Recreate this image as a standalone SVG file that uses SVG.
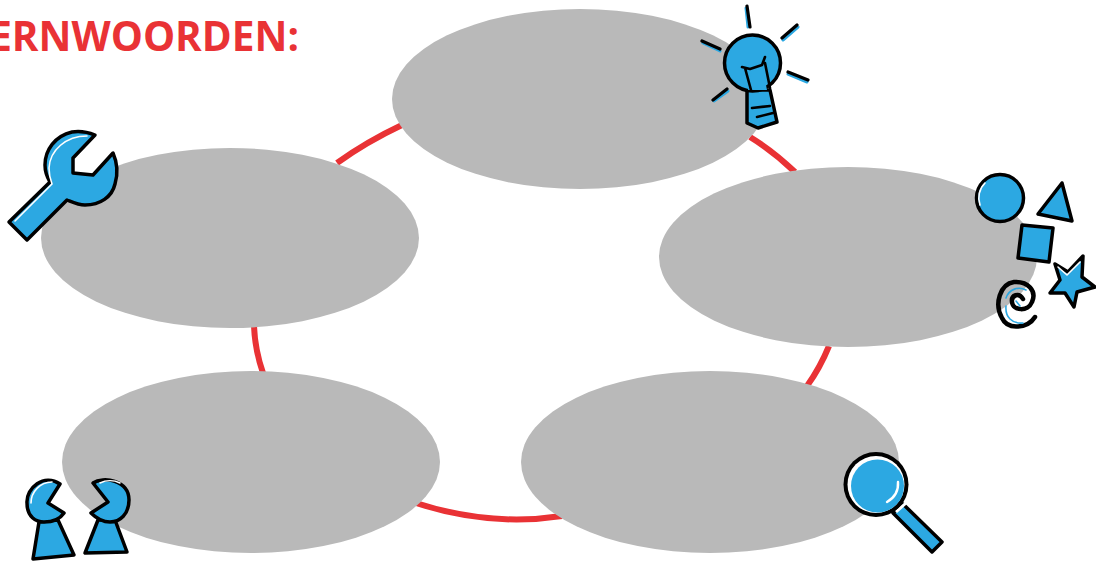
<svg xmlns="http://www.w3.org/2000/svg" width="1096" height="561" viewBox="0 0 1096 561">
<style>
.title{font-family:"Open Sans","Noto Sans",sans-serif;font-weight:700;font-size:40.5px;fill:#e93235}
.ring{fill:none;stroke:#e93235;stroke-width:6}
.blob{fill:#b9b9b9}
.b{fill:#2ca8e2;stroke:#000;stroke-width:3.5;stroke-linejoin:round;stroke-linecap:round}
.l{fill:none;stroke:#000;stroke-width:2.6;stroke-linecap:round;stroke-linejoin:round}
.r{fill:none;stroke:#000;stroke-width:3.2;stroke-linecap:round}
.rb{fill:none;stroke:#2ca8e2;stroke-width:3;stroke-linecap:round}
.hi{fill:none;stroke:#fff;stroke-width:1.6;stroke-linecap:round;stroke-linejoin:round}
</style>
<rect width="1096" height="561" fill="#fff"/>
<text class="title" x="299" y="51" text-anchor="end">ERNWOORDEN:</text>
<g id="connectors">
<path class="ring" d="M337 163Q366 142 402 125"/>
<path class="ring" d="M750 137Q773 151 795 172"/>
<path class="ring" d="M829 346Q820 368 807 386"/>
<path class="ring" d="M416 503Q490 527 562 516"/>
<path class="ring" d="M254 326Q255 350 263 373"/>
</g>
<g id="node-top"><ellipse class="blob" cx="580" cy="99" rx="188" ry="90"/>
<g id="icon-bulb">
<path class="rb" d="M746 8L748 27M783 40L798 27M788 74L807 82M714 101L728 91M703 43L720 51"/>
<path class="r" d="M747 6L750 27M782 38L797 25M788 72L808 80M713 100L727 89M702 41L720 49"/>
<path class="b" d="M747 90L747 123L758 128L777 122L770 90Z"/>
<circle class="b" cx="752.5" cy="63" r="28"/>
<path d="M748 90L752 68L762 66L767 90Z" fill="#2ca8e2"/>
<path class="l" d="M742 67L750 69L762 65L765 57M745 68L751 90M765 63L770 88M752 108L770 106M757 117L773 113"/>
</g></g>
<g id="node-right"><ellipse class="blob" cx="848" cy="257" rx="189" ry="90"/>
<g id="icon-shapes">
<circle class="b" cx="1000" cy="198" r="23.5"/>
<path class="hi" d="M980 205A21 21 0 0 1 985 183"/>
<path class="b" d="M1062 183L1038 214L1072 221Z"/>
<path class="b" d="M1022 225L1053 228L1049 262L1018 258Z"/>
<path class="b" d="M1055 264L1068 272L1083 256L1082 277L1095 287L1077 292L1074 307L1065 293L1050 293L1060 280Z"/>
<path class="hi" d="M1058 267L1067 275L1080 262"/>
<path d="M1035 317C1028 328 1008 331 1002 318C994 304 1000 284 1014 282C1028 281 1037 291 1032 302C1028 312 1013 311 1012 302C1011 295 1019 292 1023 299" fill="none" stroke="#000" stroke-width="4.5" stroke-linecap="round"/>
<path d="M1006 306C1005 317 1012 324 1023 323M1006 298C1009 289 1019 286 1026 290M1016 301L1020 306" fill="none" stroke="#2ca8e2" stroke-width="1.6" stroke-linecap="round"/>
</g></g>
<g id="node-left"><ellipse class="blob" cx="230" cy="238" rx="189" ry="90"/>
<g id="icon-wrench">
<path class="b" d="M95 135C85 131 78 131 72 132C55 136 45 150 45 165C45 172 47 177 50 182L9 222L27 240L67 200C72 202 78 205 85 205C100 205 112 197 115 184C118 174 117 162 113 153L93 175L73 173L73 158Z"/>
<path class="hi" d="M87 136C66 136 50 150 49 168C49 174 50 179 52 184L15 221"/>
</g></g>
<g id="node-bottom-left"><ellipse class="blob" cx="251" cy="462" rx="189" ry="91"/>
<g id="icon-pawns">
<path class="b" d="M39 522L33 559L74 555L58 520Z"/>
<path class="b" d="M60 484C44 473 26 488 27 503C27 517 36 522 44 522C54 522 60 519 64 513L48 503Z"/>
<path class="hi" d="M52 482C40 482 31 492 31 503"/>
<path class="b" d="M98 520L85 553L127 552L115 520Z"/>
<path class="b" d="M93 483C103 476 129 480 129 500C129 514 120 522 110 522C102 522 96 518 91 513L108 502Z"/>
<path class="hi" d="M100 483C106 480 114 480 120 483"/>
</g></g>
<g id="node-bottom-right"><ellipse class="blob" cx="710" cy="462" rx="189" ry="91"/>
<g id="icon-magnifier">
<path class="b" d="M893 513L903 504L942 542L932 552Z"/>
<path d="M896 512L906 503" fill="none" stroke="#fff" stroke-width="3"/>
<circle cx="876" cy="484.5" r="32.5" fill="#000"/>
<circle cx="876" cy="484.5" r="28.5" fill="#fff"/>
<circle cx="877.5" cy="486" r="26.5" fill="#2ca8e2"/>
<path d="M898 482Q899 495 887 502" fill="none" stroke="#fff" stroke-width="2.4" stroke-linecap="round"/>
</g></g>
</svg>
